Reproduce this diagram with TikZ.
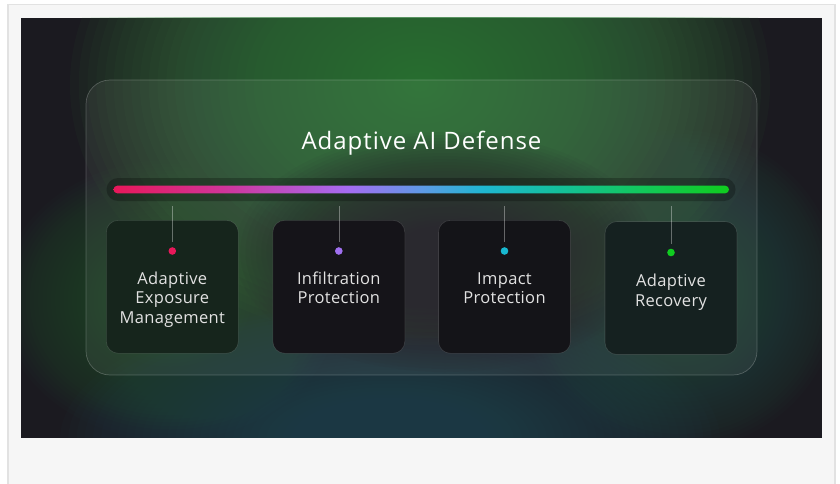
\documentclass[tikz,border=0pt]{standalone}
\usepackage{fontspec}
\setmainfont{Open Sans}
\newfontfamily\titlefont[LetterSpace=4]{Open Sans}
\newfontfamily\cardfont[LetterSpace=2]{Open Sans}

\definecolor{frameBg}{HTML}{F6F6F6}
\definecolor{frameLine}{HTML}{E2E2E2}
\definecolor{panelBase}{HTML}{1B1A20}
\definecolor{glowGreen}{HTML}{3A8242}
\definecolor{glowSideL}{HTML}{2C623E}
\definecolor{glowSideR}{HTML}{2A5C4A}
\definecolor{glowTeal}{HTML}{1D4E5A}
\definecolor{darkBlob}{HTML}{1D1C22}
\definecolor{cardA}{HTML}{16251C}
\definecolor{cardB}{HTML}{151419}
\definecolor{cardC}{HTML}{141418}
\definecolor{cardD}{HTML}{152120}
\definecolor{txt}{HTML}{E2E2E2}
\definecolor{dotA}{HTML}{E8185A}
\definecolor{dotB}{HTML}{A070F0}
\definecolor{dotC}{HTML}{18B8D0}
\definecolor{dotD}{HTML}{10CC20}
\definecolor{rb1}{HTML}{E8185A}
\definecolor{rb2}{HTML}{D0359A}
\definecolor{rb3}{HTML}{A66CF2}
\definecolor{rb4}{HTML}{5F9AE6}
\definecolor{rb5}{HTML}{1FB7D1}
\definecolor{rb6}{HTML}{14C09C}
\definecolor{rb7}{HTML}{12C85A}
\definecolor{rb8}{HTML}{10CC1E}

\pgfdeclarehorizontalshading{rainbowbar}{100bp}{color(0bp)=(rb1); color(25bp)=(rb1); color(34bp)=(rb2); color(44bp)=(rb3); color(50bp)=(rb4); color(55bp)=(rb5); color(61bp)=(rb6); color(68bp)=(rb7); color(75bp)=(rb8); color(100bp)=(rb8)}

% soft blob built from stacked translucent ellipses
\newcommand{\softblob}[6]{% color, cx, cy, rx, ry, step opacity
  \foreach \i in {1,...,40}{
    \fill[#1, fill opacity=#6] (#2,#3) ellipse [x radius={#4*\i/40}, y radius={#5*\i/40}];
  }%
}

\tikzset{
  cardbox/.style={draw=white, draw opacity=0.13, line width=0.6pt, rounded corners=12pt,
    minimum width=132pt, minimum height=133pt, inner sep=0pt},
  cardtext/.style={text=txt, align=center, inner sep=0pt, anchor=north,
    font=\cardfont\fontsize{16.5}{19.5}\selectfont},
  titletext/.style={text=white, inner sep=0pt, anchor=base,
    font=\titlefont\fontsize{24}{28}\selectfont},
  dotnode/.style={circle, inner sep=0pt, minimum size=7.6pt},
  stem/.style={draw=white, draw opacity=0.35, line width=0.6pt, shorten <=5pt, shorten >=5pt},
  trackbox/.style={fill=black, fill opacity=0.25, rounded corners=11.5pt,
    minimum width=629pt, minimum height=23pt, inner sep=0pt},
  groupbox/.style={fill=white, fill opacity=0.06, draw=white, draw opacity=0.22,
    line width=0.7pt, rounded corners=24pt}
}

\newcommand{\firststrut}{\rule{0pt}{14pt}}

\begin{document}
\begin{tikzpicture}[x=1pt,y=-1pt]
\useasboundingbox (0,0) rectangle (840,484);
\fill[white] (0,0) rectangle (840,484);
\filldraw[fill=frameBg, draw=frameLine, line width=1.5pt] (8,4.5) rectangle (835,500);

% dark panel with glows
\begin{scope}
  \clip (21,18) rectangle (822,437.5);
  \fill[panelBase] (21,18) rectangle (822,437.5);
  \softblob{glowGreen}{420}{85}{350}{260}{0.05}
  \softblob{glowSideL}{170}{300}{170}{140}{0.035}
  \softblob{glowSideR}{680}{290}{160}{160}{0.035}
  \softblob{glowTeal}{390}{440}{330}{140}{0.045}
  \softblob{darkBlob}{445}{252}{210}{120}{0.06}
\end{scope}

% group box
\draw[groupbox] (86,80) rectangle (757,375);

% title
\node[titletext] (title) at (421.5,149.3) {Adaptive AI Defense};

% track and gradient bar
\node[trackbox] (track) at (421,189.5) {};
\shade[shading=rainbowbar, rounded corners=3.8pt] (113.5,185.7) rectangle (729,193.3);

% cards
\node[cardbox, fill=cardA] (c1) at (172.3,286.8) {};
\node[cardbox, fill=cardB] (c2) at (338.8,286.8) {};
\node[cardbox, fill=cardC] (c3) at (504.5,286.8) {};
\node[cardbox, fill=cardD] (c4) at (671,288) {};

% dots
\node[dotnode, fill=dotA] (d1) at (172.3,251) {};
\node[dotnode, fill=dotB] (d2) at (338.8,251) {};
\node[dotnode, fill=dotC] (d3) at (504.5,251) {};
\node[dotnode, fill=dotD] (d4) at (671,252.5) {};

% stems
\draw[stem] (track.south -| d1) -- (d1.north);
\draw[stem] (track.south -| d2) -- (d2.north);
\draw[stem] (track.south -| d3) -- (d3.north);
\draw[stem] (track.south -| d4) -- (d4.north);

% card texts
\node[cardtext] (t1) at (172.3,270) {\firststrut Adaptive\\Exposure\\Management};
\node[cardtext] (t2) at (338.8,270) {\firststrut Infiltration\\Protection};
\node[cardtext] (t3) at (504.5,270) {\firststrut Impact\\Protection};
\node[cardtext] (t4) at (671,272.5) {\firststrut Adaptive\\Recovery};
\end{tikzpicture}
\end{document}
